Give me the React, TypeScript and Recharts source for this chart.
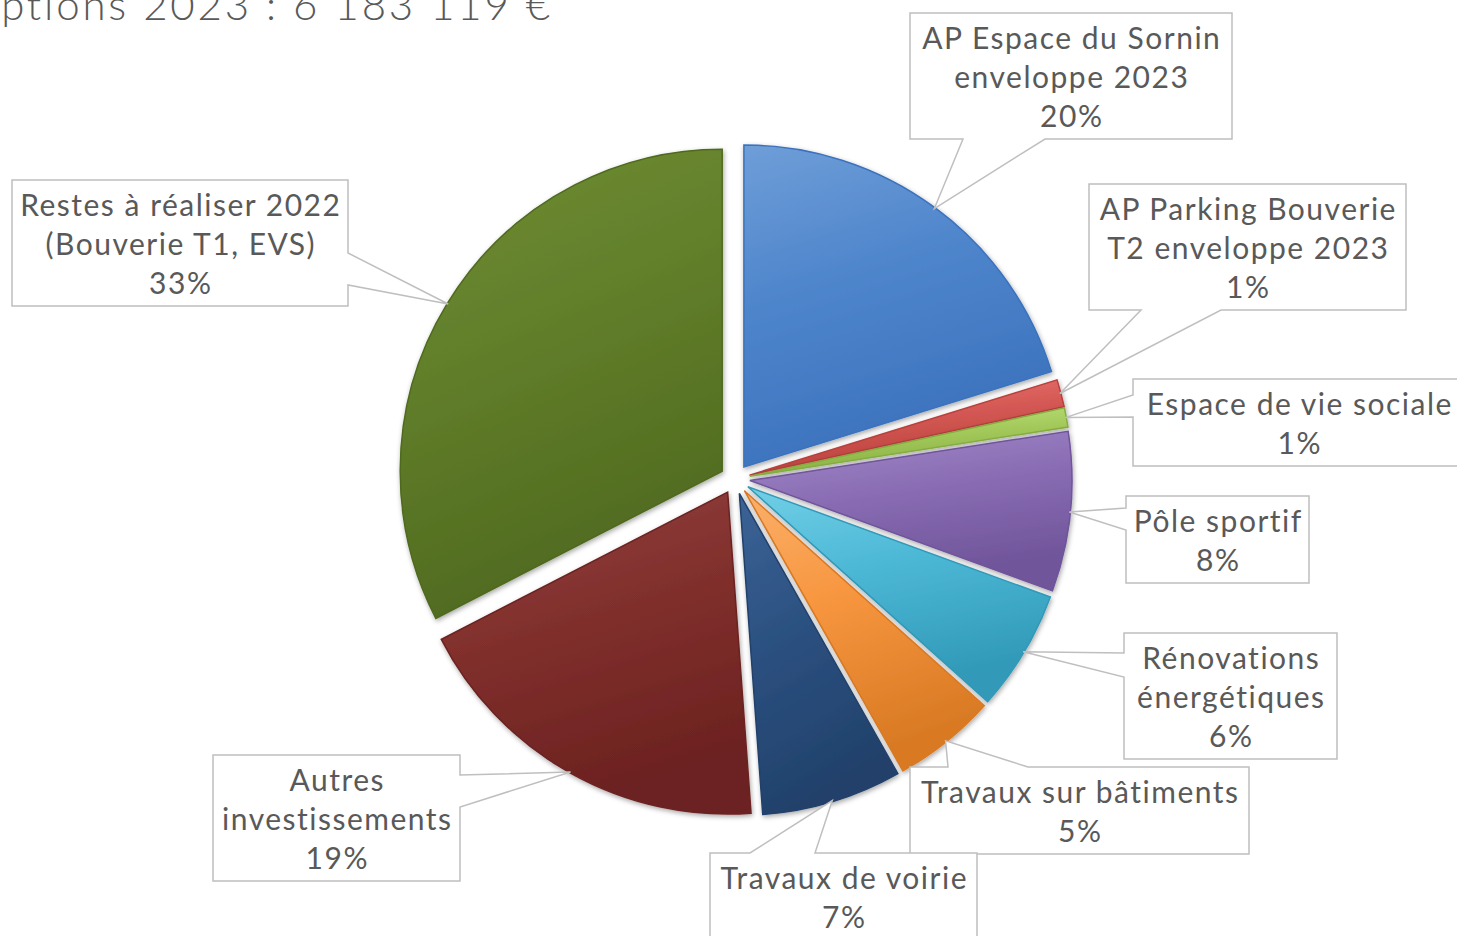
import React from 'react';
import { PieChart, Pie, Sector } from 'recharts';

// Inscriptions 2023 : 6 183 119 € (euros per line)
const categories = [
  'AP Espace du Sornin\nenveloppe 2023',
  'AP Parking Bouverie\nT2 enveloppe 2023',
  'Espace de vie sociale',
  'Pôle sportif',
  'Rénovations\nénergétiques',
  'Travaux sur bâtiments',
  'Travaux de voirie',
  'Autres\ninvestissements',
  'Restes à réaliser 2022\n(Bouverie T1, EVS)',
];
const amounts = [1250000, 85000, 60000, 495000, 375000, 320000, 435000, 1150000, 2013119];
const titleText = 'ptions 2023 : 6 183 119 €';

const data = categories.map((name, i) => ({ name, value: amounts[i] }));

// fill: [light, base, dark]
const sliceColors = [
  ['#6f9ed8', '#4f86cc', '#3b72bd'],
  ['#ec7a76', '#d65a56', '#b8403c'],
  ['#c4e486', '#a6cc5e', '#86ad40'],
  ['#a58ccb', '#8a6db4', '#6f549a'],
  ['#72cfe6', '#4cb8d6', '#3199b8'],
  ['#fbb06b', '#f7963f', '#d97a24'],
  ['#3c6396', '#2c5282', '#21416b'],
  ['#934240', '#82302d', '#6c2220'],
  ['#6f8d34', '#627f2b', '#4f6a1f'],
];

// callout boxes: edge the pointer leaves from, and the two base points on that edge
const callouts = [
  { x: 910, y: 13, w: 322, h: 126, side: 'bottom', b1: 963, b2: 1045 },
  { x: 1089, y: 184, w: 317, h: 126, side: 'bottom', b1: 1141, b2: 1221 },
  { x: 1133, y: 379, w: 332, h: 87, side: 'left', b1: 395, b2: 417 },
  { x: 1126, y: 496, w: 183, h: 87, side: 'left', b1: 508, b2: 530 },
  { x: 1124, y: 633, w: 213, h: 126, side: 'left', b1: 653, b2: 677 },
  { x: 910, y: 767, w: 339, h: 87, side: 'top', b1: 948, b2: 1028 },
  { x: 710, y: 853, w: 267, h: 87, side: 'top', b1: 750, b2: 815 },
  { x: 213, y: 755, w: 247, h: 126, side: 'right', b1: 775, b2: 807 },
  { x: 12, y: 180, w: 336, h: 126, side: 'right', b1: 253, b2: 285 },
];

const EXPLODE = 15;
const RAD = Math.PI / 180;
const FONT = 'Lato, "Open Sans", sans-serif';
const TEXT = '#595959';

function ExplodedSlice(props: any) {
  const { cx, cy, midAngle, outerRadius, startAngle, endAngle, index } = props;
  const dx = Math.cos(-midAngle * RAD) * EXPLODE;
  const dy = Math.sin(-midAngle * RAD) * EXPLODE;
  return (
    <Sector
      cx={cx + dx}
      cy={cy + dy}
      innerRadius={0}
      outerRadius={outerRadius}
      startAngle={startAngle}
      endAngle={endAngle}
      fill={`url(#grad-${index})`}
      stroke={sliceColors[index][2]}
      strokeWidth={1.5}
      filter="url(#slice-shadow)"
    />
  );
}

function Callout(props: any) {
  const { cx, cy, midAngle, outerRadius, index, percent } = props;
  const c = callouts[index];
  const r = outerRadius + EXPLODE - 1;
  const tx = cx + Math.cos(-midAngle * RAD) * r;
  const ty = cy + Math.sin(-midAngle * RAD) * r;
  const { x, y, w, h, side, b1, b2 } = c;
  let d = '';
  if (side === 'top') {
    d = `M${x},${y} L${b1},${y} L${tx},${ty} L${b2},${y} L${x + w},${y} L${x + w},${y + h} L${x},${y + h} Z`;
  } else if (side === 'right') {
    d = `M${x},${y} L${x + w},${y} L${x + w},${b1} L${tx},${ty} L${x + w},${b2} L${x + w},${y + h} L${x},${y + h} Z`;
  } else if (side === 'bottom') {
    d = `M${x},${y} L${x + w},${y} L${x + w},${y + h} L${b2},${y + h} L${tx},${ty} L${b1},${y + h} L${x},${y + h} Z`;
  } else {
    d = `M${x},${y} L${x + w},${y} L${x + w},${y + h} L${x},${y + h} L${x},${b2} L${tx},${ty} L${x},${b1} Z`;
  }
  const lines = [...categories[index].split('\n'), `${Math.round(percent * 100)}%`];
  return (
    <g>
      <path d={d} fill="#ffffff" stroke="#bfbfbf" strokeWidth={1.5} />
      {lines.map((ln, i) => (
        <text
          key={i}
          x={x + w / 2 + 0.8}
          y={y + 24 + i * 39}
          textAnchor="middle"
          dominantBaseline="central"
          fontFamily={FONT}
          fontWeight={400}
          fontSize={30}
          letterSpacing={1.5}
          fill={TEXT}
        >
          {ln}
        </text>
      ))}
    </g>
  );
}

export default function App() {
  return (
    <div style={{ position: 'absolute', left: 0, top: 0, width: 1457, height: 936, background: '#ffffff' }}>
      <PieChart width={1457} height={936} margin={{ top: 0, right: 0, bottom: 0, left: 0 }}>
        <defs>
          {sliceColors.map((c, i) => (
            <linearGradient key={i} id={`grad-${i}`} x1="0" y1="0" x2="0.3" y2="1">
              <stop offset="0%" stopColor={c[0]} />
              <stop offset="45%" stopColor={c[1]} />
              <stop offset="100%" stopColor={c[2]} />
            </linearGradient>
          ))}
          <filter id="slice-shadow" x="-10%" y="-10%" width="120%" height="120%">
            <feDropShadow dx="1" dy="2" stdDeviation="2.5" floodColor="#000000" floodOpacity="0.35" />
          </filter>
        </defs>
        <text
          x={553}
          y={20}
          textAnchor="end"
          fontFamily={FONT}
          fontWeight={300}
          fontSize={42}
          letterSpacing={2.8}
          fill={TEXT}
        >
          {titleText}
        </text>
        <Pie
          data={data}
          dataKey="value"
          nameKey="name"
          cx={735}
          cy={479}
          outerRadius={322}
          startAngle={90}
          endAngle={-270}
          fill="transparent"
          stroke="none"
          labelLine={false}
          label={ExplodedSlice}
          isAnimationActive={false}
        />
        <Pie
          data={data}
          dataKey="value"
          nameKey="name"
          cx={735}
          cy={479}
          outerRadius={322}
          startAngle={90}
          endAngle={-270}
          fill="transparent"
          stroke="none"
          labelLine={false}
          label={Callout}
          isAnimationActive={false}
        />
      </PieChart>
    </div>
  );
}
